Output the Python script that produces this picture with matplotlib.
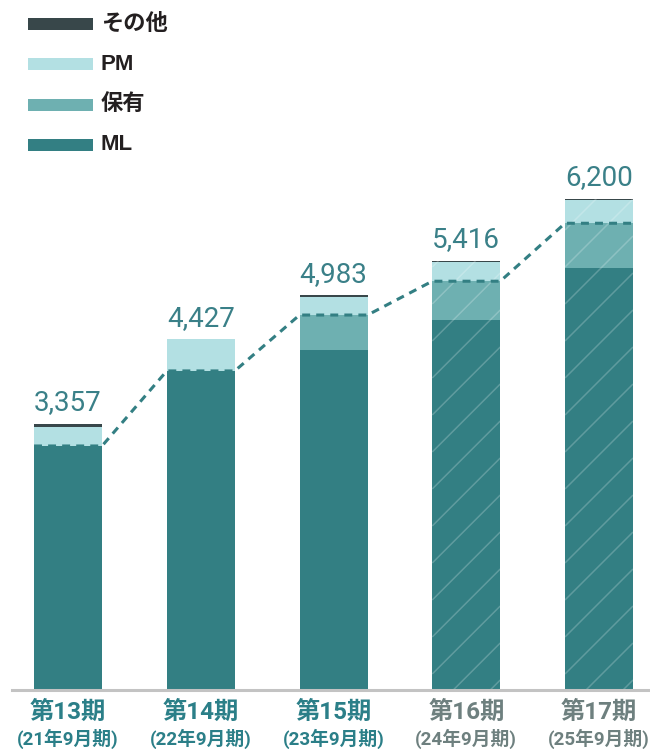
import numpy as np
import matplotlib
matplotlib.use("Agg")
import matplotlib.pyplot as plt
from matplotlib.patches import Rectangle

plt.rcParams["font.family"] = ["Noto Sans CJK JP", "DejaVu Sans"]

# ---- data ----------------------------------------------------------------
periods = ["第13期", "第14期", "第15期", "第16期", "第17期"]
fiscal = ["(21年9月期)", "(22年9月期)", "(23年9月期)", "(24年9月期)", "(25年9月期)"]
ml = np.array([3082, 4030, 4294, 4673, 5330])
hoyu = np.array([0, 0, 442, 490, 565])
pm = np.array([237, 397, 234, 240, 290])
other = np.array([38, 0, 13, 13, 15])
totals = [3357, 4427, 4983, 5416, 6200]
forecast = [False, False, False, True, True]   # hatched bars

C_ML = "#337f83"
C_HOYU = "#6eb0b1"
C_PM = "#b3e0e3"
C_OTHER = "#38474a"
C_LABEL = "#2b7f88"
C_LABEL_F = "#6e807f"

W, H = 650, 749
fig = plt.figure(figsize=(W / 100, H / 100), dpi=100)
ax = fig.add_axes([12 / W, 59 / H, 638 / W, 690 / H])

x = np.arange(len(periods))
bw = 0.512
ax.set_xlim(-0.422, 4.384)
ax.set_ylim(0, 8715)

ax.bar(x, ml, bw, color=C_ML, linewidth=0, zorder=2)
ax.bar(x, hoyu, bw, bottom=ml, color=C_HOYU, linewidth=0, zorder=2)
ax.bar(x, pm, bw, bottom=ml + hoyu, color=C_PM, linewidth=0, zorder=2)
ax.bar(x, other, bw, bottom=ml + hoyu + pm, color=C_OTHER, linewidth=0, zorder=2)

# hatch lines on forecast bars (45 deg in pixel space, ~37px apart)
inv = ax.transData.inverted()
for i in x[np.array(forecast)]:
    (L, B) = ax.transData.transform((i - bw / 2, 0))
    (R, T) = ax.transData.transform((i + bw / 2, totals[i]))
    clip = Rectangle((i - bw / 2, 0), bw, totals[i], transform=ax.transData)
    span = R - L
    for y0 in np.arange(B - span + 10, T, 37):
        p = inv.transform([[L, y0], [R, y0 + span]])
        ln, = ax.plot(p[:, 0], p[:, 1], color="white", alpha=0.22, lw=1.1,
                      zorder=3, solid_capstyle="butt")
        ln.set_clip_path(clip)

# dashed line on top of ML + 保有
lx, ly = [], []
for i in x:
    lx += [i - bw / 2, i + bw / 2]
    ly += [ml[i] + hoyu[i]] * 2
ax.plot(lx, ly, color=C_ML, lw=2.2, dashes=(2.6, 2.0), zorder=4)

# totals
for i, t in zip(x, totals):
    ax.annotate(f"{t:,}", (i, t), xytext=(0, 10), textcoords="offset points",
                ha="center", va="baseline", fontsize=20,
                family=["Roboto", "Noto Sans CJK JP"], color="#3a8088")

# axis cosmetics
for s in ["top", "right", "left"]:
    ax.spines[s].set_visible(False)
ax.spines["bottom"].set_color("#c3c3c3")
ax.spines["bottom"].set_linewidth(2.2)
ax.spines["bottom"].set_zorder(5)
ax.set_yticks([])
ax.set_xticks(x)
ax.set_xticklabels(periods, fontsize=17.5, fontweight="bold",
                   family=["Roboto", "Noto Sans CJK JP"])
ax.tick_params(axis="x", length=0, pad=8)
for lab, f in zip(ax.get_xticklabels(), forecast):
    lab.set_color(C_LABEL_F if f else C_LABEL)
for i, (txt, f) in enumerate(zip(fiscal, forecast)):
    ax.text(i, -49 / 690, txt, transform=ax.get_xaxis_transform(), ha="center",
            va="center", fontsize=13.5, fontweight="bold",
            family=["Roboto", "Noto Sans CJK JP"],
            color=C_LABEL_F if f else C_LABEL)

# legend
legend_items = [("その他", C_OTHER), ("PM", C_PM), ("保有", C_HOYU), ("ML", C_ML)]
for k, (name, c) in enumerate(legend_items):
    yc = 24 + 40.3 * k
    fig.add_artist(Rectangle((28 / W, 1 - (yc + 6) / H), 65 / W, 12 / H,
                             transform=fig.transFigure, color=c, linewidth=0))
    fig.text(101 / W, 1 - yc / H, name, va="center", ha="left", fontsize=16,
             fontweight="bold", family=["Liberation Sans", "Noto Sans CJK JP"],
             color="#231f20")

fig.savefig("out.png", dpi=100)
